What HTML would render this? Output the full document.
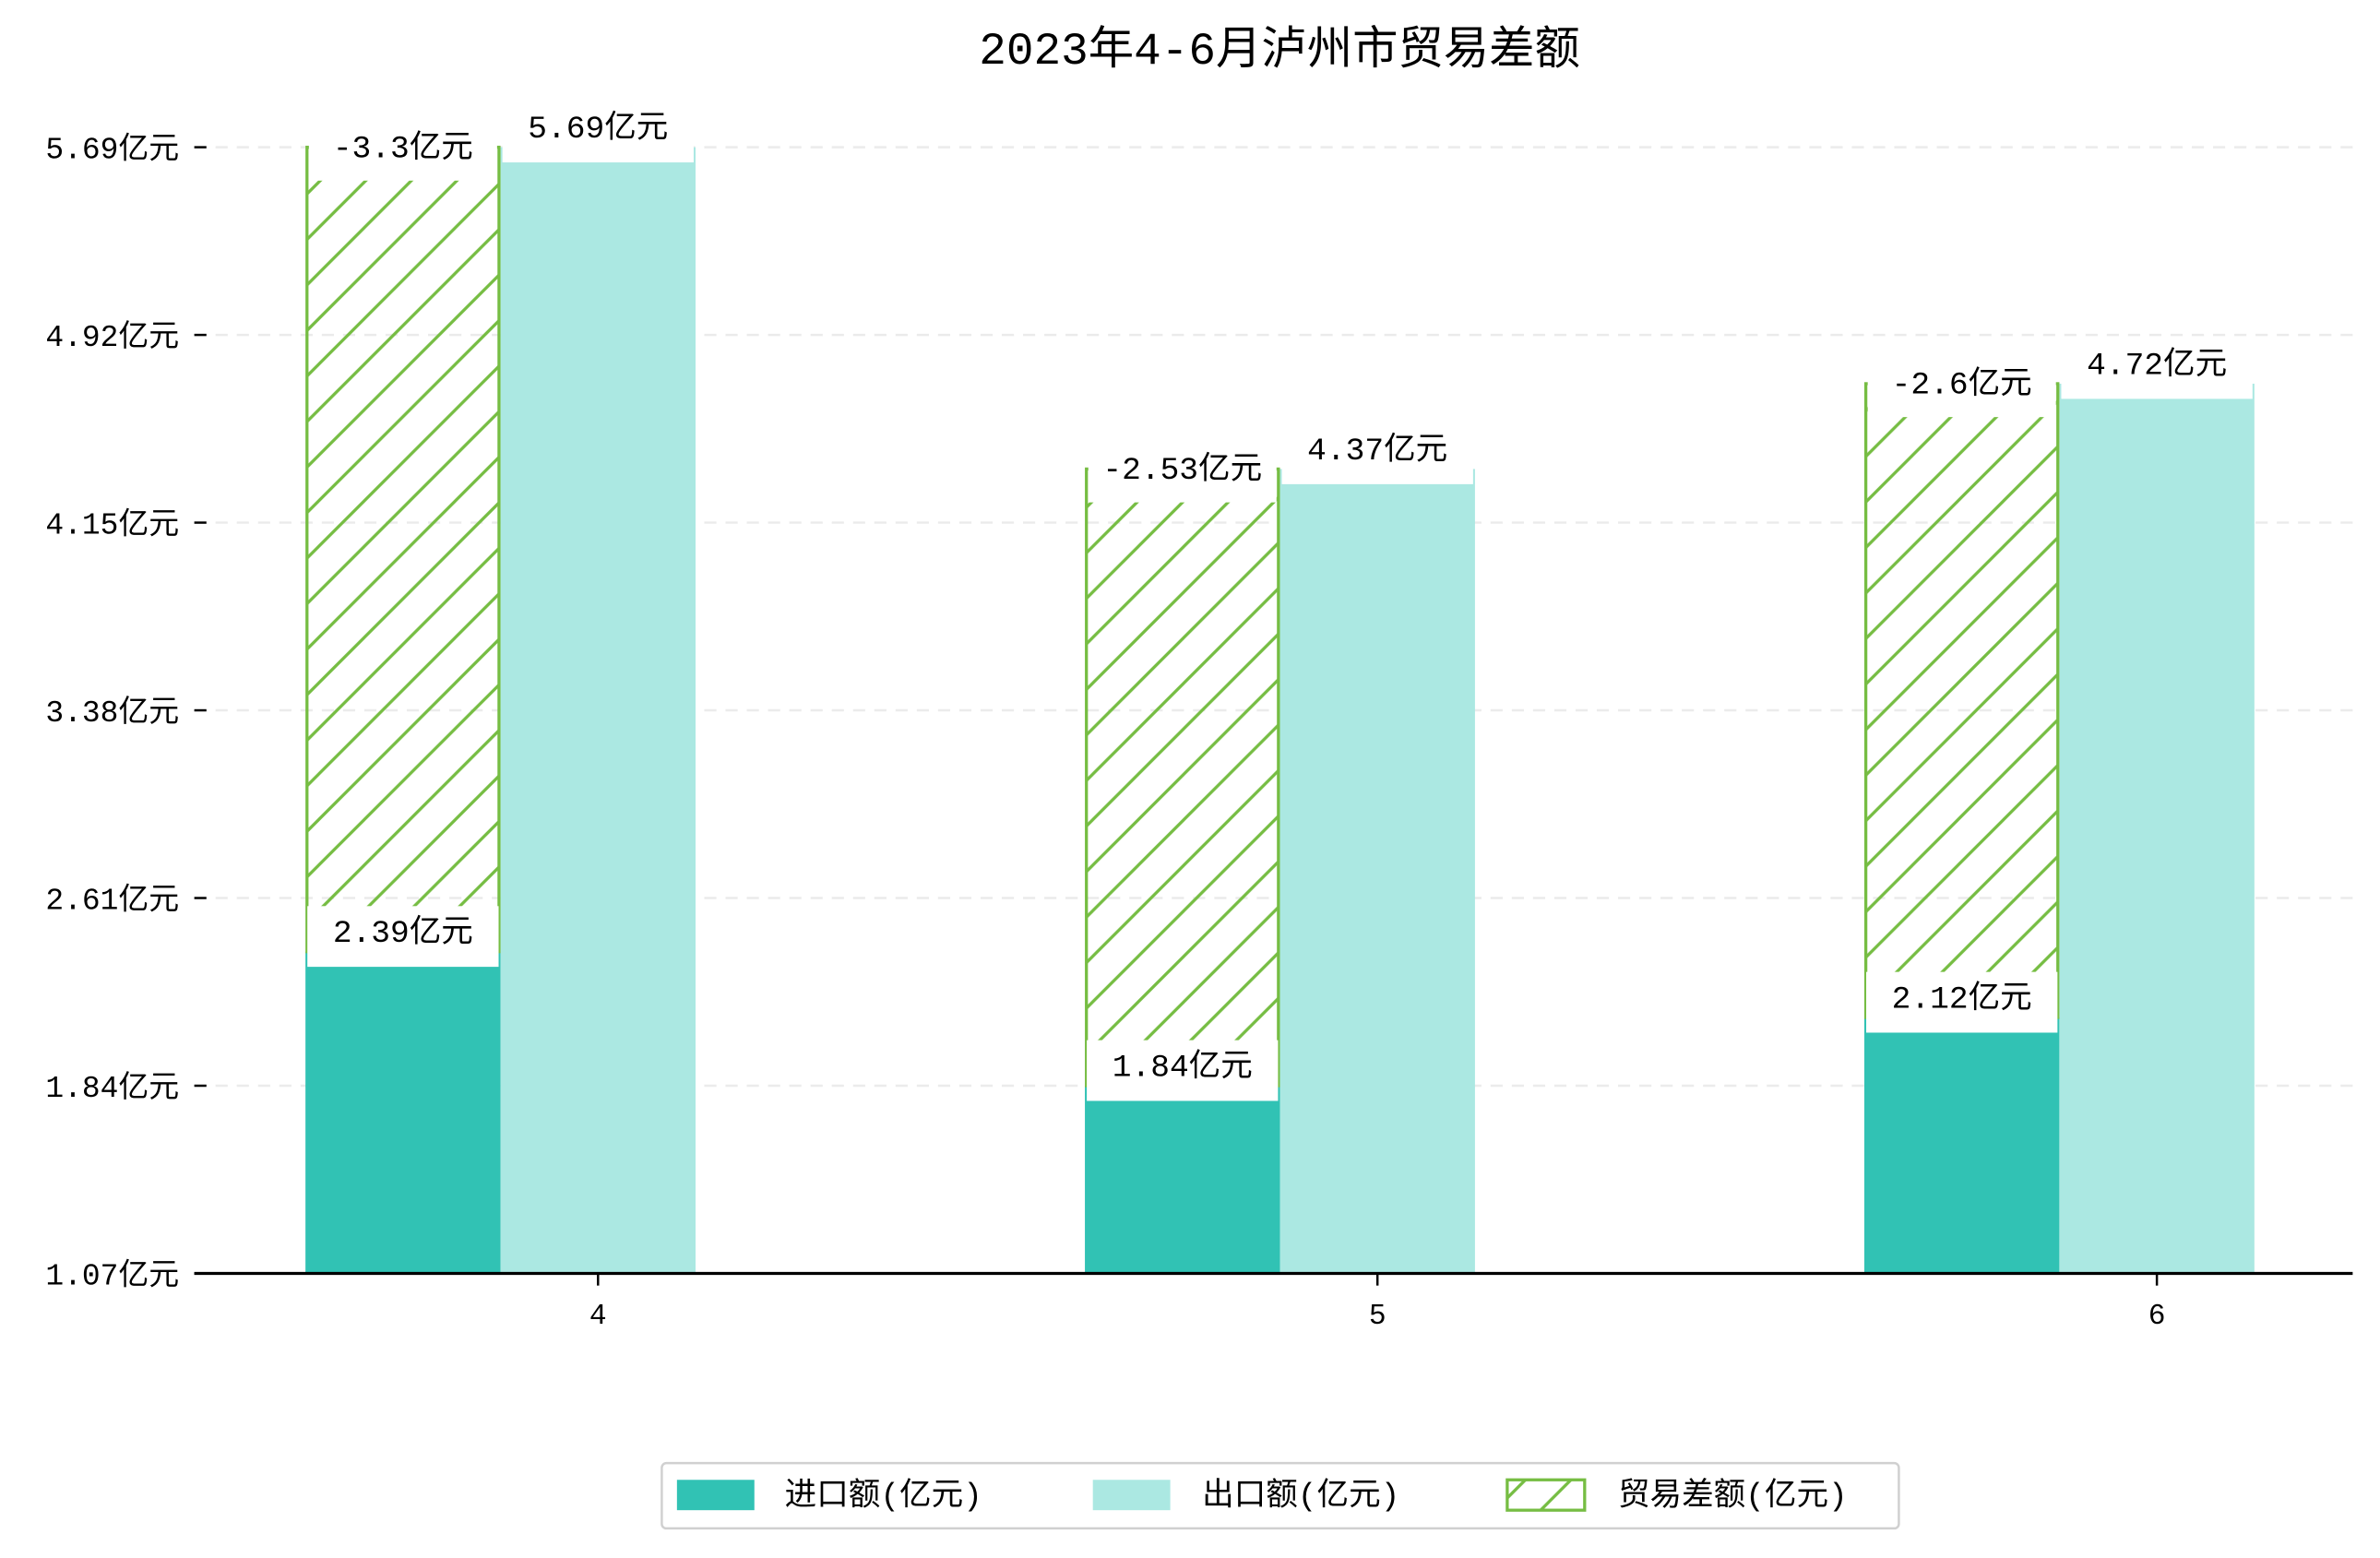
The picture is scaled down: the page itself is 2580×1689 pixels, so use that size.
<!DOCTYPE html>
<html><head><meta charset="utf-8"><style>
html,body{margin:0;padding:0;background:#fff;width:2580px;height:1689px;overflow:hidden}
svg{display:block}
text{font-family:"Liberation Mono","Noto Sans CJK SC",monospace}
</style></head><body>
<svg id="chart" width="2580" height="1689" viewBox="0 0 1568 1026.5" preserveAspectRatio="none" xmlns="http://www.w3.org/2000/svg">
<defs>
<pattern id="hatch" patternUnits="userSpaceOnUse" width="30" height="30">
<line x1="-5" y1="35" x2="35" y2="-5" stroke="#76bd43" stroke-width="2"/>
<line x1="-35" y1="35" x2="5" y2="-5" stroke="#76bd43" stroke-width="2"/>
<line x1="25" y1="35" x2="65" y2="-5" stroke="#76bd43" stroke-width="2"/>
</pattern>
</defs>
<text x="843" y="34" font-size="30" text-anchor="middle" dominant-baseline="middle">2023年4-6月泸州市贸易差额</text>
<g id="grid"></g><g id="bars"></g><g id="labels"></g><g id="axes"></g>
<g>
<rect x="436" y="964" width="815" height="43" rx="3" fill="#fff" stroke="#d0d0d0" stroke-width="1.5"/>
<rect x="446" y="975" width="51" height="20" fill="#31c2b4"/>
<text x="517" y="986" font-size="21" dominant-baseline="middle">进口额(亿元)</text>
<rect x="720" y="975" width="51" height="20" fill="#abe8e2"/>
<text x="792" y="986" font-size="21" dominant-baseline="middle">出口额(亿元)</text>
<rect x="993" y="975" width="51" height="20" fill="url(#hatch)" stroke="#76bd43" stroke-width="2"/>
<text x="1066" y="986" font-size="21" dominant-baseline="middle">贸易差额(亿元)</text>
</g>
</svg>
<script>
const months = ["4","5","6"];
const imports = [2.39, 1.84, 2.12];
const exports_ = [5.69, 4.37, 4.72];
const balance = [-3.3, -2.53, -2.6];
const yTicks = [1.07, 1.84, 2.61, 3.38, 4.15, 4.92, 5.69];
const NS = "http://www.w3.org/2000/svg";
const yMin = 1.07, yMax = 5.69, y0 = 839, y1 = 97;
const xStart = 394, xStep = 513.5, bw = 128.5;
function y(v){return y0 - (v - yMin)/(yMax - yMin)*(y0 - y1);}
function xc(i){return xStart + i*xStep;}
function mk(tag, attrs, parent){const e=document.createElementNS(NS,tag);for(const k in attrs)e.setAttribute(k,attrs[k]);parent.appendChild(e);return e;}
const grid=document.getElementById('grid'),bars=document.getElementById('bars'),labels=document.getElementById('labels'),axes=document.getElementById('axes');
yTicks.forEach((t)=>{
  const yy=y(t);
  if(t!==yMin){const g=mk('line',{x1:128,x2:1550,y1:yy,y2:yy,stroke:'#ebebeb','stroke-width':1.5,'stroke-dasharray':'8,6'},grid);
  
  }
  const tk=mk('line',{x1:128,x2:136,y1:yy,y2:yy,stroke:'#000','stroke-width':1.5},axes);
  
  
  const tx=mk('text',{x:118,y:yy+2,'font-size':20,'text-anchor':'end','dominant-baseline':'middle'},axes);
  tx.textContent=t.toFixed(2)+'亿元';
  
  
});
const base=mk('line',{x1:128,x2:1550,y1:y0,y2:y0,stroke:'#000','stroke-width':2},axes);


function label(cx,cy,txt,top,bot,w,name){
  const r=mk('rect',{x:cx-w/2,y:top,width:w,height:bot-top,fill:'#fff'},labels);
  
  
  const t=mk('text',{x:cx,y:cy,'font-size':21,'text-anchor':'middle','dominant-baseline':'middle'},labels);
  t.textContent=txt;
  
  
}
months.forEach((m,i)=>{
  const c=xc(i);
  const ix=c-bw*1.5, ex=c-bw/2;
  const ib=mk('rect',{x:ix,y:y(imports[i]),width:bw,height:y0-y(imports[i]),fill:'#31c2b4'},bars);
  
  
  const eb=mk('rect',{x:ex,y:y(exports_[i]),width:bw,height:y0-y(exports_[i]),fill:'#abe8e2'},bars);
  
  
  const top=y(imports[i]-balance[i]);
  const db=mk('rect',{x:ix+1,y:top,width:bw-2,height:y(imports[i])-top,fill:'url(#hatch)',stroke:'#76bd43','stroke-width':2},bars);
  
  
  const it=y(imports[i]);
  label(ix+bw/2,it-12,imports[i]+'亿元',it-30,it+10,126,'import-value-'+m);
  const et=y(exports_[i]);
  label(ex+bw/2,et-12,exports_[i]+'亿元',et-25,et+10,126,'export-value-'+m);
  label(ix+bw/2,top+1,balance[i]+'亿元',top-20,top+22,124,'balance-value-'+m);
  const xt=mk('line',{x1:c,x2:c,y1:y0,y2:y0+8,stroke:'#000','stroke-width':1.5},axes);
  
  
  const xl=mk('text',{x:c,y:y0+28,'font-size':19,'text-anchor':'middle','dominant-baseline':'middle'},axes);
  xl.textContent=m;
  
  
});
</script>
</body></html>
